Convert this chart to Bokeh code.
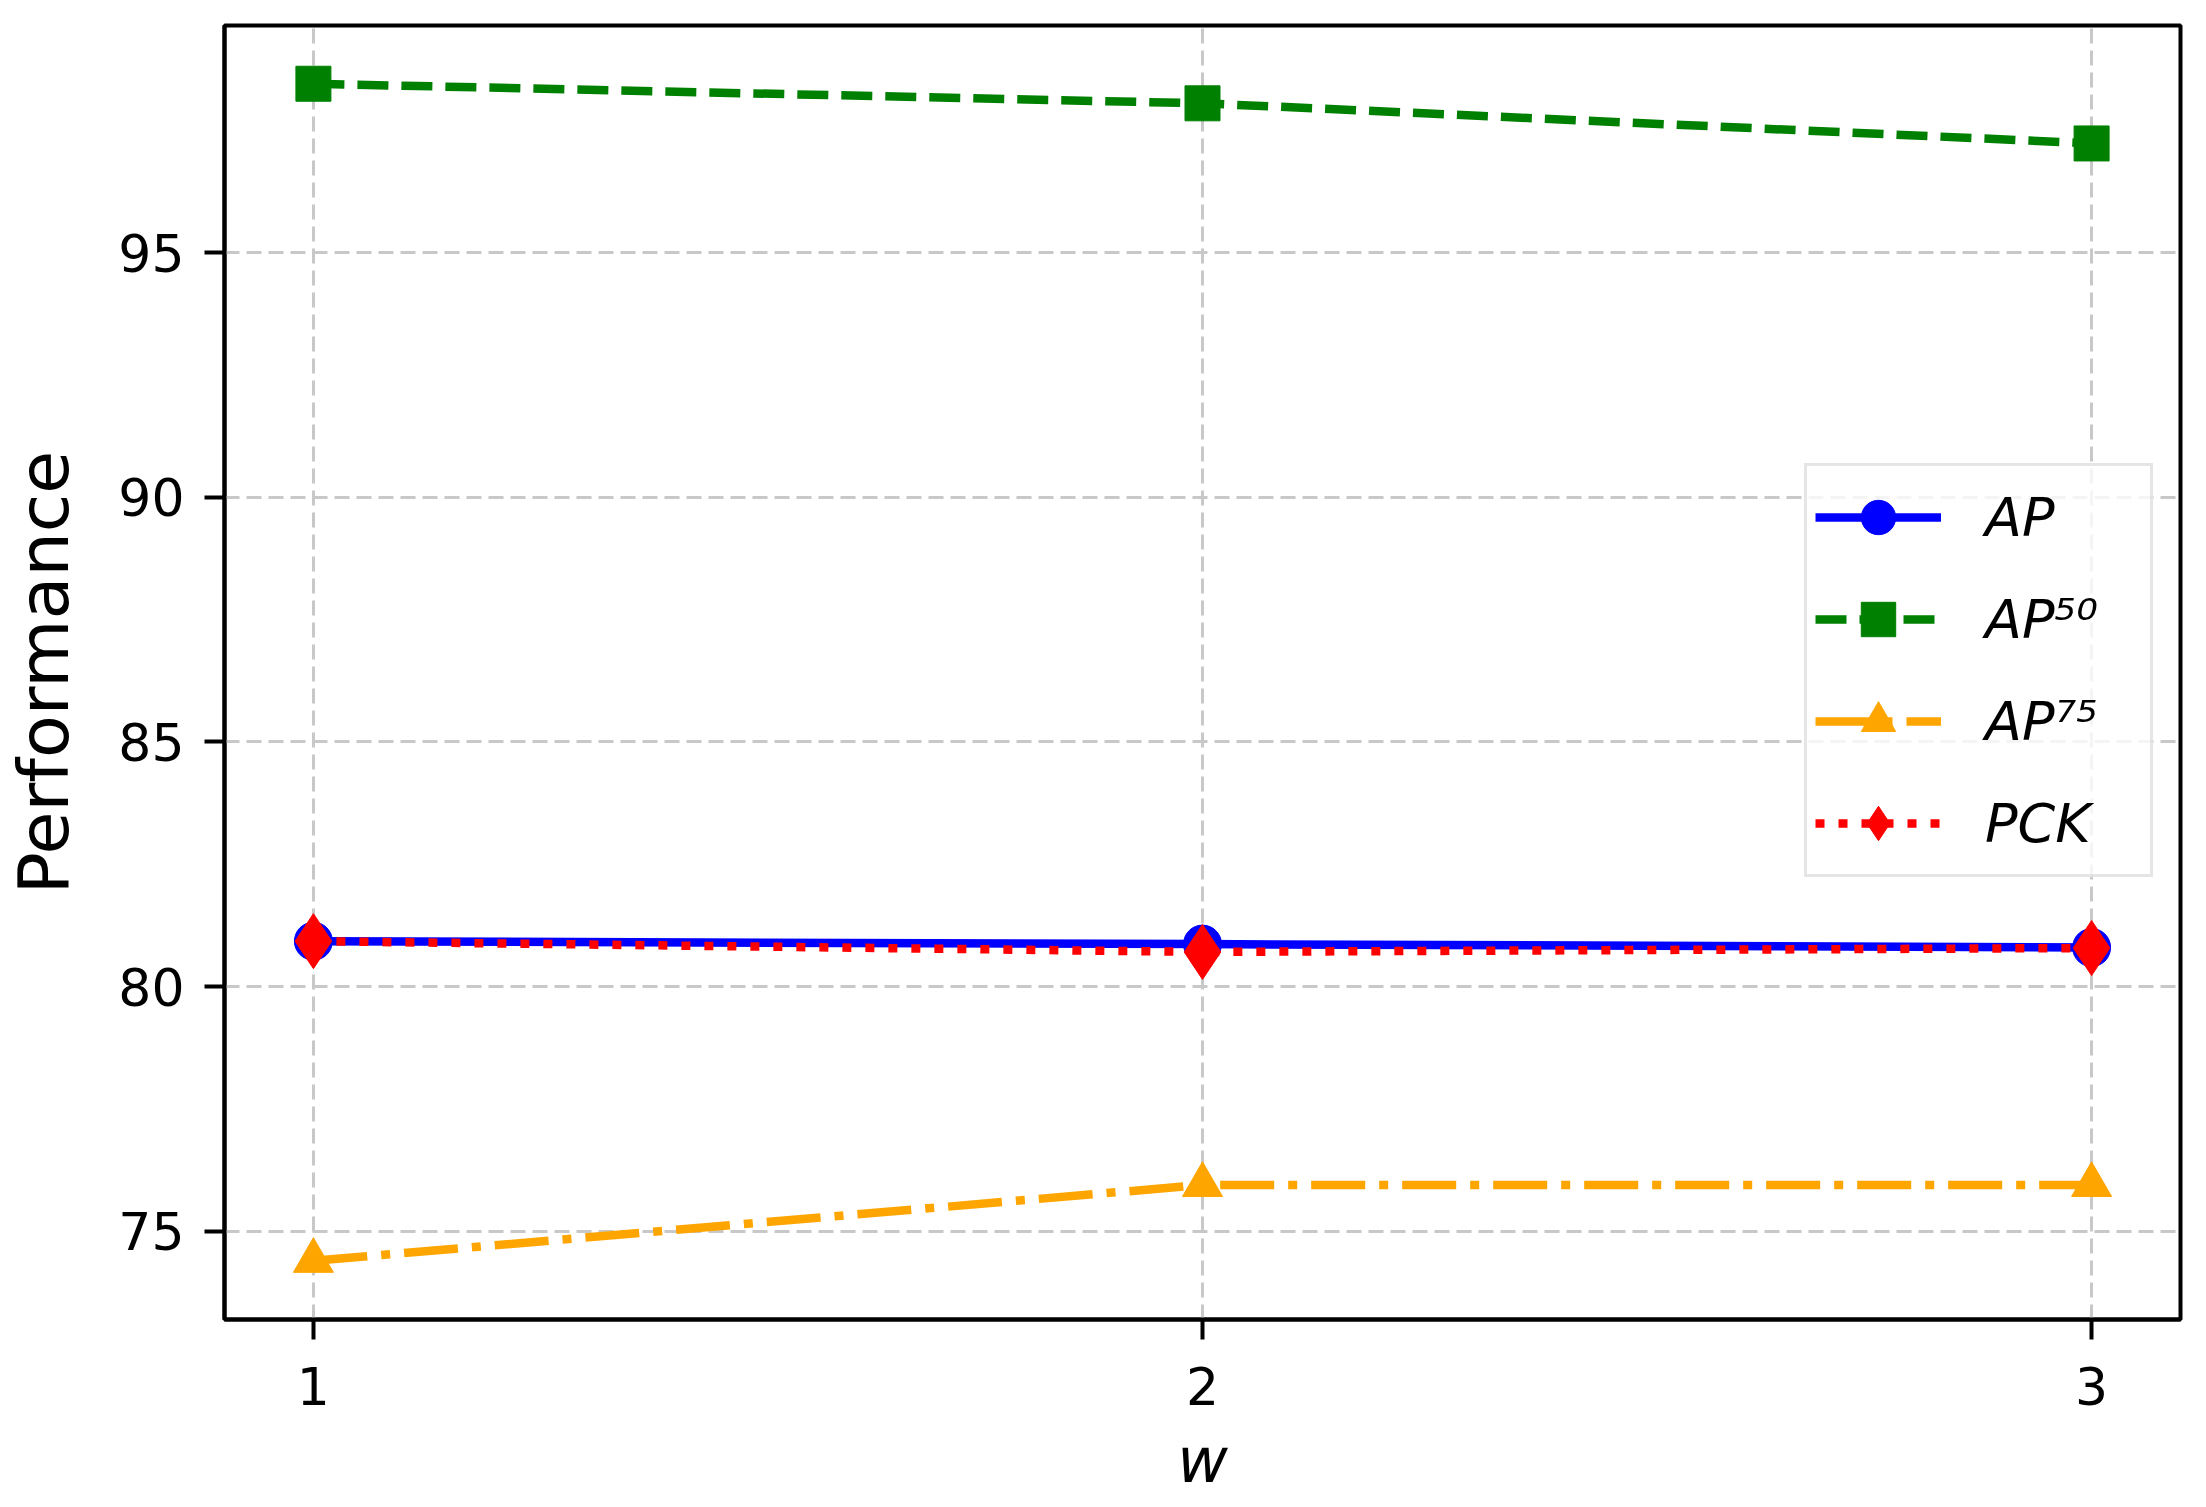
from bokeh.plotting import figure
from bokeh.models import FixedTicker, Legend, LegendItem
from bokeh.embed import file_html
from bokeh.resources import INLINE

# ---- data ----
w_values = [1, 2, 3]
ap = [80.93, 80.87, 80.80]
ap50 = [98.45, 98.05, 97.23]
ap75 = [74.40, 75.95, 75.95]
pck = [80.93, 80.71, 80.79]
y_ticks = [75, 80, 85, 90, 95]
series_labels = ["AP", "AP\u2075\u2070", "AP\u2077\u2075", "PCK"]

FONT = "DejaVu Sans"

p = figure(width=2190, height=1500, x_range=(0.9, 3.1), y_range=(73.2, 99.64),
           output_backend="svg", toolbar_location=None,
           min_border_left=222, min_border_right=10, min_border_top=25,
           min_border_bottom=181)

p.background_fill_color = "white"
p.border_fill_color = "white"
p.outline_line_color = "black"
p.outline_line_width = 4

for ax in (p.xaxis[0], p.yaxis[0]):
    ax.axis_line_color = "black"
    ax.axis_line_width = 4
    ax.major_tick_line_color = "black"
    ax.major_tick_line_width = 4
    ax.major_tick_out = 20
    ax.major_tick_in = 0
    ax.minor_tick_line_color = None
    ax.major_label_text_font = FONT
    ax.major_label_text_font_size = "52px"
    ax.major_label_text_color = "black"
    ax.axis_label_text_font = FONT
    ax.axis_label_text_color = "black"

p.xaxis.ticker = FixedTicker(ticks=w_values)
p.yaxis.ticker = FixedTicker(ticks=y_ticks)
p.xaxis.major_label_standoff = 27
p.yaxis.major_label_standoff = 20
p.xaxis.axis_label = "w"
p.xaxis.axis_label_text_font_style = "italic"
p.xaxis.axis_label_text_font_size = "62px"
p.xaxis.axis_label_standoff = 16
p.yaxis.axis_label = "Performance"
p.yaxis.axis_label_text_font_style = "normal"
p.yaxis.axis_label_text_font_size = "70px"
p.yaxis.axis_label_standoff = 30

for g in (p.xgrid[0], p.ygrid[0]):
    g.grid_line_color = "#c8c8c8"
    g.grid_line_width = 3
    g.grid_line_dash = "15 7"

LW = 8.5
l1 = p.line(w_values, ap, line_color="blue", line_width=LW)
s1 = p.scatter(w_values, ap, marker="circle", size=38, fill_color="blue", line_color="blue")

l2 = p.line(w_values, ap50, line_color="#008000", line_width=LW, line_dash="31 13")
s2 = p.scatter(w_values, ap50, marker="square", size=35, fill_color="#008000", line_color="#008000")

l3 = p.line(w_values, ap75, line_color="#ffa500", line_width=LW, line_dash="54 14 9 14")
s3 = p.scatter(w_values, ap75, marker="triangle", size=40, fill_color="#ffa500", line_color="#ffa500")

l4 = p.line(w_values, pck, line_color="red", line_width=LW, line_dash="9 14")
s4 = p.scatter(w_values, pck, marker="diamond", size=55, fill_color="red", line_color="red")

legend = Legend(items=[
    LegendItem(label=series_labels[0], renderers=[l1, s1]),
    LegendItem(label=series_labels[1], renderers=[l2, s2]),
    LegendItem(label=series_labels[2], renderers=[l3, s3]),
    LegendItem(label=series_labels[3], renderers=[l4, s4]),
], location=(1580, 442))
legend.margin = 0
legend.padding = 8
legend.glyph_width = 126
legend.glyph_height = 86
legend.label_height = 86
legend.label_width = 157
legend.spacing = 16
legend.label_standoff = 44
legend.label_text_font = FONT
legend.label_text_font_style = "italic"
legend.label_text_font_size = "54px"
legend.label_text_color = "black"
legend.border_line_color = "#cccccc"
legend.border_line_width = 3
legend.background_fill_color = "white"
legend.background_fill_alpha = 0.8
p.add_layout(legend)

open("out.html", "w").write(file_html(p, INLINE))
